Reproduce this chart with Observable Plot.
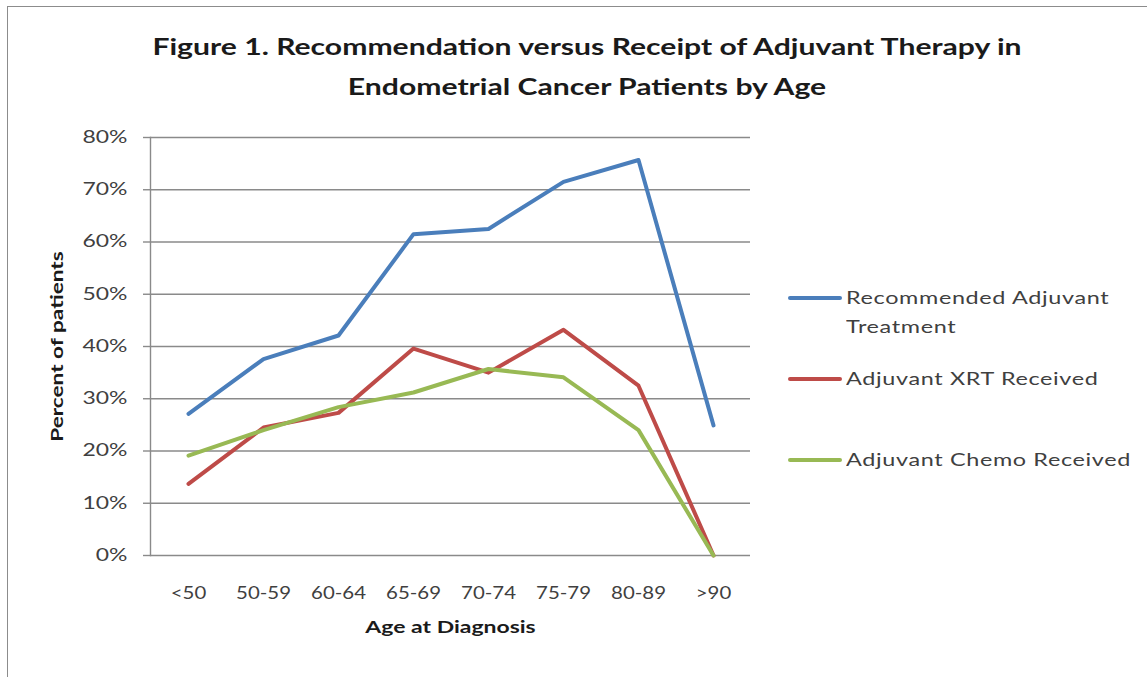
<!DOCTYPE html>
<html>
<head>
<meta charset="utf-8">
<script src="https://cdn.jsdelivr.net/npm/d3@7"></script>
<script src="https://cdn.jsdelivr.net/npm/@observablehq/plot@0.6"></script>
<style>
  html, body { margin: 0; padding: 0; background: #fff; }
  #wrap { position: relative; width: 1147px; height: 677px; overflow: hidden; font-family: Lato, "Open Sans", sans-serif; }
  #border { position: absolute; left: 7px; top: 6px; width: 1200px; height: 800px; border: 1.5px solid #8c8c8c; box-sizing: border-box; }
  #title { position: absolute; left: 0; top: 26px; width: 1174px; text-align: center; font-weight: bold; font-size: 23px; line-height: 40px; color: #1a1a1a; transform: scaleX(1.31); transform-origin: 587px 0; }
  #chart { position: absolute; left: 0; top: 0; }
  #legend { position: absolute; left: 788px; top: 0; font-size: 18px; color: #404040; letter-spacing: 0.5px; }
  .item { position: absolute; left: 0; white-space: nowrap; }
  .sw { position: absolute; left: 0; width: 54px; height: 4px; border-radius: 2px; }
  .lab { position: absolute; left: 58px; line-height: 29px; transform: scaleX(1.3); transform-origin: 0 0; }
</style>
</head>
<body>
<div id="wrap">
  <div id="border"></div>
  <div id="title">Figure 1. Recommendation versus Receipt of Adjuvant Therapy in<br>Endometrial Cancer Patients by Age</div>
  <div id="chart"></div>
  <div id="legend"></div>
</div>
<script>
const ageGroups = ["<50", "50-59", "60-64", "65-69", "70-74", "75-79", "80-89", ">90"];
const seriesNames = ["Recommended Adjuvant Treatment", "Adjuvant XRT Received", "Adjuvant Chemo Received"];
const seriesColors = ["#4a7ebb", "#be4b48", "#98b954"];
const recommended = [0.271, 0.376, 0.421, 0.615, 0.625, 0.715, 0.757, 0.249];
const xrtReceived = [0.137, 0.245, 0.273, 0.396, 0.350, 0.432, 0.325, 0.0];
const chemoReceived = [0.191, 0.240, 0.284, 0.312, 0.357, 0.341, 0.240, 0.0];
const yTicks = [0, 0.1, 0.2, 0.3, 0.4, 0.5, 0.6, 0.7, 0.8];
const xTitle = "Age at Diagnosis";
const yTitle = "Percent of patients";

const seriesValues = [recommended, xrtReceived, chemoReceived];
const rows = [];
seriesNames.forEach((s, i) => ageGroups.forEach((a, j) => rows.push({series: s, age: a, value: seriesValues[i][j]})));

const chart = Plot.plot({
  width: 1147,
  height: 677,
  marginLeft: 150,
  marginRight: 397,
  marginTop: 137,
  marginBottom: 122,
  style: {fontFamily: "Lato, 'Open Sans', sans-serif", fontSize: "17px", color: "#404040", background: "transparent"},
  x: {type: "point", domain: ageGroups, padding: 0.5, label: null},
  y: {domain: [0, 0.8], label: null},
  color: {domain: seriesNames, range: seriesColors},
  marks: [
    Plot.ruleY(yTicks, {stroke: "#8a8a8a", strokeWidth: 1.4, strokeOpacity: 1}),
    Plot.axisY(yTicks, {tickSize: 7, tickPadding: 16, tickFormat: d3.format(".0%"), stroke: "#8a8a8a", strokeWidth: 1.4, strokeOpacity: 1, label: null, fill: "#404040"}),
    Plot.frame({anchor: "left", stroke: "#8a8a8a", strokeWidth: 1.4, strokeOpacity: 1}),
    Plot.axisX({tickSize: 0, tickPadding: 31, label: null, fill: "#404040"}),
    Plot.text([xTitle], {frameAnchor: "bottom", dy: 77, fontWeight: "bold", fill: "#1a1a1a", fontSize: 17}),
    Plot.text([yTitle], {frameAnchor: "left", rotate: -90, dx: -93, fontWeight: "bold", fill: "#1a1a1a", fontSize: 17}),
    Plot.line(rows, {x: "age", y: "value", z: "series", stroke: "series", strokeWidth: 4, strokeLinejoin: "round", strokeLinecap: "round"})
  ]
});
document.getElementById("chart").appendChild(chart);

// horizontally widen text glyphs to match the reference's stretched rendering
function stretch(nodes, s, recenter) {
  nodes.forEach(t => {
    const len = t.getComputedTextLength();
    if (len > 0) {
      t.setAttribute("textLength", (len * s).toFixed(1));
      t.setAttribute("lengthAdjust", "spacingAndGlyphs");
      if (recenter) {
        t.setAttribute("text-anchor", "start");
        const tr = t.getAttribute("transform") || "";
        t.setAttribute("transform", `${tr} translate(${(-len * s / 2).toFixed(1)},0)`);
      }
    }
  });
}
const allTexts = Array.from(chart.querySelectorAll("text"));
const xTickTexts = Array.from(chart.querySelectorAll('[aria-label="x-axis tick label"] text'));
const yTitleTexts = allTexts.filter(t => t.textContent === yTitle);
const otherTexts = allTexts.filter(t => !xTickTexts.includes(t) && !yTitleTexts.includes(t));
stretch(xTickTexts, 1.2, false);
stretch(otherTexts, 1.35, false);
stretch(yTitleTexts, 1.33, true);

const legend = document.getElementById("legend");
const legendItems = [
  {name: "Recommended Adjuvant<br>Treatment", color: seriesColors[0], top: 298},
  {name: "Adjuvant XRT Received", color: seriesColors[1], top: 379},
  {name: "Adjuvant Chemo Received", color: seriesColors[2], top: 460}
];
legendItems.forEach(it => {
  const d = document.createElement("div");
  d.className = "item";
  d.style.top = it.top + "px";
  d.innerHTML = `<div class="sw" style="background:${it.color};top:-2px"></div><div class="lab" style="top:-15px">${it.name}</div>`;
  legend.appendChild(d);
});
</script>
</body>
</html>
